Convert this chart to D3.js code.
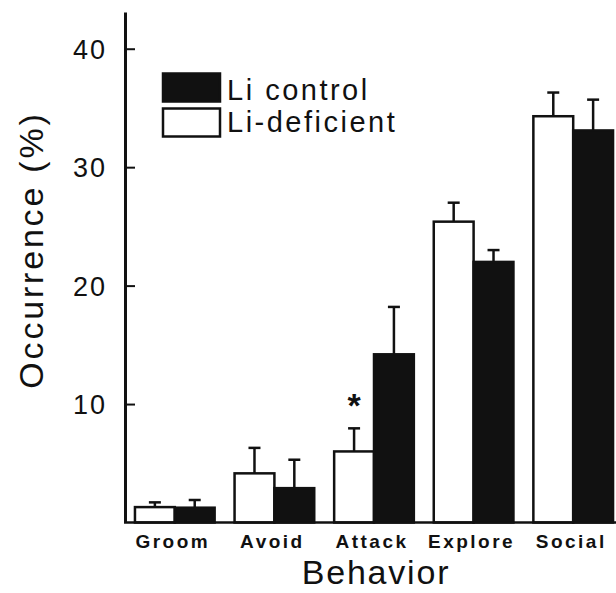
<!DOCTYPE html>
<html>
<head>
<meta charset="utf-8">
<script src="https://cdn.jsdelivr.net/npm/d3@7"></script>
<style>
  html, body { margin: 0; padding: 0; background: #fff; }
  svg { display: block; }
  text { font-family: "Liberation Sans", Arial, sans-serif; fill: #111; }
</style>
</head>
<body>
<svg id="chart" width="616" height="593"></svg>
<script>
const categories = ["Groom", "Avoid", "Attack", "Explore", "Social"];
const deficient = [1.3, 4.15, 6.0, 25.4, 34.3];
const deficientSE = [0.4, 2.15, 1.95, 1.6, 2.0];
const control = [1.25, 2.9, 14.2, 22.0, 33.1];
const controlSE = [0.65, 2.4, 4.0, 1.0, 2.6];
const yTicks = [10, 20, 30, 40];
const seriesNames = ["Li-deficient", "Li control"];
const legendLabels = ["Li control", "Li-deficient"];
const significant = ["Attack"];

const svg = d3.select("#chart");
const ink = "#111";

const x0 = d3.scaleBand().domain(categories).range([125, 623]).paddingInner(0.2).paddingOuter(0.1);
const x1 = d3.scaleBand().domain(seriesNames).range([0, x0.bandwidth()]);
const y = d3.scaleLinear().domain([0, 43.1]).range([522.5, 12]);

const rows = [];
categories.forEach((c, i) => {
  rows.push({cat: c, series: "Li-deficient", v: deficient[i], se: deficientSE[i]});
  rows.push({cat: c, series: "Li control", v: control[i], se: controlSE[i]});
});
const fill = d3.scaleOrdinal().domain(seriesNames).range(["#fff", ink]);

// error bars (upper only)
const eb = svg.append("g");
rows.forEach(d => {
  const cx = x0(d.cat) + x1(d.series) + x1.bandwidth() / 2;
  eb.append("line").attr("x1", cx).attr("x2", cx).attr("y1", y(d.v)).attr("y2", y(d.v + d.se))
    .attr("stroke", ink).attr("stroke-width", 2.5);
  eb.append("line").attr("x1", cx - 6).attr("x2", cx + 6).attr("y1", y(d.v + d.se)).attr("y2", y(d.v + d.se))
    .attr("stroke", ink).attr("stroke-width", 2.5);
});

// bars
svg.append("g").selectAll("rect").data(rows).join("rect")
  .attr("x", d => x0(d.cat) + x1(d.series))
  .attr("width", x1.bandwidth())
  .attr("y", d => y(d.v))
  .attr("height", d => y(0) - y(d.v))
  .attr("fill", d => fill(d.series))
  .attr("stroke", ink)
  .attr("stroke-width", 2.5);

// baseline
svg.append("line").attr("x1", 124).attr("x2", 616).attr("y1", y(0)).attr("y2", y(0))
  .attr("stroke", ink).attr("stroke-width", 2.5);

// y axis
const yAxis = d3.axisLeft(y).tickValues(yTicks).tickSizeInner(-10).tickSizeOuter(0).tickPadding(18)
  .tickFormat(d3.format("d"));
const gy = svg.append("g").attr("transform", "translate(125,0)").call(yAxis);
gy.select(".domain").attr("stroke", ink).attr("stroke-width", 3);
gy.selectAll(".tick line").attr("stroke", ink).attr("stroke-width", 2);
gy.selectAll(".tick text").style("font-size", "27px").style("letter-spacing", "2px")
  .attr("fill", ink).attr("dy", "0.36em");

// x category labels
svg.append("g").selectAll("text").data(categories).join("text")
  .attr("x", d => x0(d) + x0.bandwidth() / 2 - 2)
  .attr("y", 548)
  .attr("text-anchor", "middle")
  .style("font-size", "19px")
  .style("font-weight", "bold")
  .style("letter-spacing", "2.5px")
  .text(d => d);

// significance asterisk
svg.append("g").selectAll("text").data(significant).join("text")
  .attr("x", d => x0(d) + x1("Li-deficient") + x1.bandwidth() / 2)
  .attr("y", 417)
  .attr("text-anchor", "middle")
  .style("font-size", "34px")
  .style("font-weight", "bold")
  .text("*");

// axis titles
svg.append("text").attr("x", 376).attr("y", 584).attr("text-anchor", "middle")
  .style("font-size", "34px").style("letter-spacing", "1.8px").text("Behavior");
svg.append("text").attr("transform", "translate(43,250) rotate(-90)").attr("text-anchor", "middle")
  .style("font-size", "34px").style("letter-spacing", "2.8px").text("Occurrence (%)");

// legend
const legendFill = ["Li control", "Li-deficient"];
const lg = svg.append("g");
legendLabels.forEach((lab, i) => {
  lg.append("rect").attr("x", 163).attr("y", 73.5 + i * 35).attr("width", 57).attr("height", 28)
    .attr("fill", fill(legendFill[i])).attr("stroke", ink).attr("stroke-width", 2.5);
  lg.append("text").attr("x", 227).attr("y", 100 + i * 32)
    .style("font-size", "29px").style("letter-spacing", "2.5px").text(lab);
});
</script>
</body>
</html>
